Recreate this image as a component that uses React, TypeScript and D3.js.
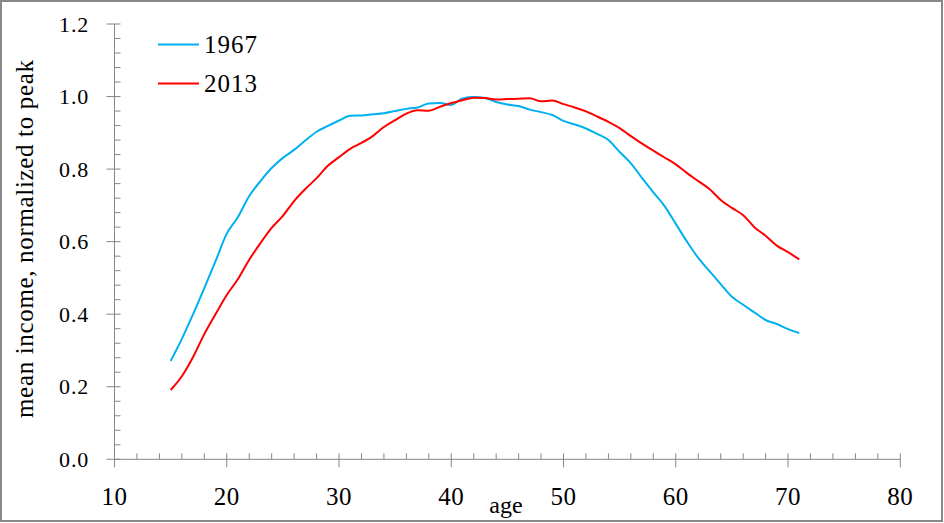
import React from "react";
import * as d3 from "d3";

const ages: number[] = d3.range(15, 72);

const income1967: number[] = [
  0.271, 0.332, 0.40, 0.472, 0.546, 0.622, 0.668, 0.726, 0.767, 0.803,
  0.831, 0.853, 0.879, 0.903, 0.919, 0.934, 0.947, 0.948, 0.951, 0.954,
  0.96, 0.966, 0.97, 0.981, 0.982, 0.977, 0.995, 0.999, 0.996, 0.985,
  0.978, 0.974, 0.964, 0.957, 0.949, 0.933, 0.923, 0.912, 0.897, 0.88,
  0.847, 0.816, 0.775, 0.736, 0.698, 0.649, 0.60, 0.555, 0.519, 0.483,
  0.448, 0.426, 0.405, 0.384, 0.373, 0.359, 0.348,
];

const income2013: number[] = [
  0.191, 0.229, 0.282, 0.345, 0.40, 0.453, 0.497, 0.55, 0.596, 0.638,
  0.671, 0.712, 0.745, 0.775, 0.809, 0.833, 0.856, 0.872, 0.891, 0.916,
  0.935, 0.953, 0.962, 0.961, 0.972, 0.982, 0.99, 0.997, 0.996, 0.992,
  0.993, 0.994, 0.995, 0.987, 0.989, 0.979, 0.97, 0.959, 0.945, 0.93,
  0.913, 0.891, 0.87, 0.851, 0.832, 0.813, 0.789, 0.767, 0.745, 0.715,
  0.693, 0.673, 0.64, 0.616, 0.589, 0.571, 0.551,
];

const seriesNames: string[] = ["1967", "2013"];
const seriesColors: string[] = ["#00B0F0", "#FF0000"];

const xTicks: number[] = [10, 20, 30, 40, 50, 60, 70, 80];
const yTicks: number[] = [0, 0.2, 0.4, 0.6, 0.8, 1.0, 1.2];

const W = 944;
const H = 523;
const FONT = "'Liberation Serif', 'Times New Roman', serif";
const AXIS = "#868686";

export default function App() {
  const x = d3.scaleLinear().domain([10, 80]).range([114.5, 900.3]);
  const y = d3.scaleLinear().domain([0, 1.2]).range([459.3, 24]);

  const line = d3
    .line<[number, number]>()
    .x((d) => x(d[0]))
    .y((d) => y(d[1]))
    .curve(d3.curveMonotoneX);

  const series = [income1967, income2013].map((vals) =>
    ages.map((a, i) => [a, vals[i]] as [number, number])
  );

  const xMinor = d3.range(10, 80.001, 2).filter((v) => v % 10 !== 0);
  const yMinor = d3.range(0, 1.2001, 0.04).filter(
    (v) => Math.abs(v * 5 - Math.round(v * 5)) > 1e-6
  );

  const x0 = x(10);
  const y0 = y(0);

  return (
    <svg
      width={W}
      height={H}
      style={{ position: "absolute", left: 0, top: 0, background: "#fff" }}
      fontFamily={FONT}
    >
      <rect x={1} y={1} width={941} height={520} fill="#fff" stroke="#888" strokeWidth={2} />

      {/* axes */}
      <line x1={x0} x2={x0} y1={y(1.2)} y2={y0} stroke={AXIS} strokeWidth={1} />
      <line x1={x0} x2={x(80)} y1={y0} y2={y0} stroke={AXIS} strokeWidth={1} />

      {yTicks.map((t) => (
        <line key={"yt" + t} x1={x0 - 8} x2={x0 + 6} y1={y(t)} y2={y(t)} stroke={AXIS} strokeWidth={1} />
      ))}
      {yMinor.map((t) => (
        <line key={"ym" + t} x1={x0} x2={x0 + 6} y1={y(t)} y2={y(t)} stroke={AXIS} strokeWidth={1} />
      ))}
      {xTicks.map((t) => (
        <line key={"xt" + t} x1={x(t)} x2={x(t)} y1={y0 - 6} y2={y0 + 8} stroke={AXIS} strokeWidth={1} />
      ))}
      {xMinor.map((t) => (
        <line key={"xm" + t} x1={x(t)} x2={x(t)} y1={y0 - 6} y2={y0} stroke={AXIS} strokeWidth={1} />
      ))}

      {yTicks.map((t) => (
        <text key={"yl" + t} x={89} y={y(t)} dy="0.35em" textAnchor="end" fontSize={22} letterSpacing={0.8} fill="#000">
          {d3.format(".1f")(t)}
        </text>
      ))}
      {xTicks.map((t) => (
        <text key={"xl" + t} x={x(t)} y={505} textAnchor="middle" fontSize={25} letterSpacing={0.5} fill="#000">
          {t}
        </text>
      ))}

      <text x={506} y={513} textAnchor="middle" fontSize={24} fill="#000">
        age
      </text>
      <text
        transform="translate(33,239) rotate(-90)"
        textAnchor="middle"
        fontSize={25}
        fill="#000"
        textLength={358}
        lengthAdjust="spacing"
      >
        mean income, normalized to peak
      </text>

      {series.map((s, i) => (
        <path key={"s" + i} d={line(s) || ""} fill="none" stroke={seriesColors[i]} strokeWidth={2} />
      ))}

      {seriesNames.map((n, i) => {
        const ly = i === 0 ? 44.5 : 83.5;
        return (
          <g key={"lg" + n}>
            <line x1={158} x2={199} y1={ly} y2={ly} stroke={seriesColors[i]} strokeWidth={2} />
            <text x={204} y={ly} dy="0.35em" fontSize={25} letterSpacing={1} fill="#000">
              {n}
            </text>
          </g>
        );
      })}
    </svg>
  );
}
